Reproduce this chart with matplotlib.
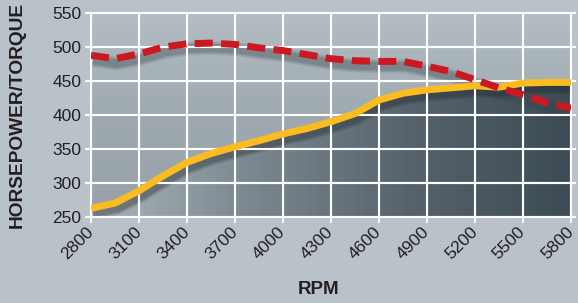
import numpy as np
import matplotlib
matplotlib.use("Agg")
from matplotlib import pyplot as plt
from matplotlib import transforms
from matplotlib.colors import LinearSegmentedColormap

rpm = [2800, 2950, 3100, 3250, 3400, 3550, 3700, 3850, 4000, 4150, 4300,
       4450, 4600, 4750, 4900, 5050, 5200, 5350, 5500, 5650, 5800]
horsepower = [262, 270, 288, 310, 330, 343, 353, 362, 372, 380, 390,
              402, 422, 432, 437, 440, 443, 441, 447, 448, 448]
torque = [488, 483, 490, 500, 505, 506, 504, 499, 495, 489, 483,
          480, 479, 479, 472, 464, 452, 440, 430, 418, 410]
x_ticks = [2800, 3100, 3400, 3700, 4000, 4300, 4600, 4900, 5200, 5500, 5800]
y_ticks = [250, 300, 350, 400, 450, 500, 550]

plt.rcParams["font.family"] = ["Liberation Sans", "DejaVu Sans"]

fig = plt.figure(figsize=(5.78, 3.03), dpi=100, facecolor="#b8c2c8")
ax = fig.add_axes([91 / 578, 1 - 216.6 / 303, 480 / 578, 203.3 / 303])
ax.set_xlim(2800, 5800)
ax.set_ylim(250, 550)

# vertical background gradient
bg = LinearSegmentedColormap.from_list("bg", ["#96a1a9", "#9ea9b0", "#b3bdc3"])
ax.imshow(np.linspace(0, 1, 100).reshape(-1, 1), cmap=bg, aspect="auto",
          extent=(2800, 5800, 550, 250), zorder=0)

# horizontal gradient under the horsepower curve
under = LinearSegmentedColormap.from_list("under", ["#a9b4ba", "#7b878f", "#56636c", "#3d4b55"])
img = ax.imshow(np.linspace(0, 1, 100).reshape(1, -1), cmap=under, aspect="auto",
                extent=(2800, 5800, 250, 550), zorder=0.5)
poly = ax.fill_between(rpm, 250, horsepower, color="none", lw=0)
img.set_clip_path(poly.get_paths()[0], transform=ax.transData)

ax.set_axisbelow(False)
ax.grid(True, color="white", lw=1.5, zorder=1)
for s in ax.spines.values():
    s.set_visible(False)

# extend gridlines a little past the axes like the reference
ax.hlines(y_ticks, -0.012, 1.01, transform=ax.get_yaxis_transform(),
          color="white", lw=1.5, clip_on=False, zorder=1)
ax.vlines(x_ticks, -0.03, 1.0, transform=ax.get_xaxis_transform(),
          color="white", lw=1.5, clip_on=False, zorder=1)

# soft shadows
for w, a in [(10, 0.12), (8, 0.15), (6, 0.2)]:
    off = transforms.offset_copy(ax.transData, fig=fig, x=1.5, y=-3.5, units="points")
    ax.plot(rpm, horsepower, color="#1e262c", lw=w, alpha=a, transform=off,
            solid_capstyle="butt", zorder=2)
    ax.plot(rpm, torque, color="#3a444b", lw=w, alpha=a, transform=off,
            solid_capstyle="butt", zorder=2)

ax.plot(rpm, horsepower, color="#fbbc22", lw=5, solid_capstyle="butt", zorder=3)
ax.plot(rpm, torque, color="#cc1820", lw=5, dashes=(2.6, 1.2),
        dash_capstyle="butt", zorder=4)

ax.set_xticks(x_ticks)
ax.set_yticks(y_ticks)
ax.tick_params(length=0, pad=7, labelsize=12.5, labelcolor="#231f20")
ax.tick_params(axis="x", pad=9)
for lab in ax.get_xticklabels():
    lab.set_rotation(45)
    lab.set_ha("right")
    lab.set_va("center")
    lab.set_rotation_mode("anchor")

ax.set_xlabel("RPM", fontsize=13.5, fontweight="bold", color="#231f20", va="center")
ax.xaxis.set_label_coords(0.475, -0.36)
ax.set_ylabel("HORSEPOWER/TORQUE", fontsize=13.8, fontweight="bold", color="#231f20",
              va="center")
ax.yaxis.set_label_coords(-0.154, 0.5)

fig.savefig("out.png", dpi=100, facecolor=fig.get_facecolor())
